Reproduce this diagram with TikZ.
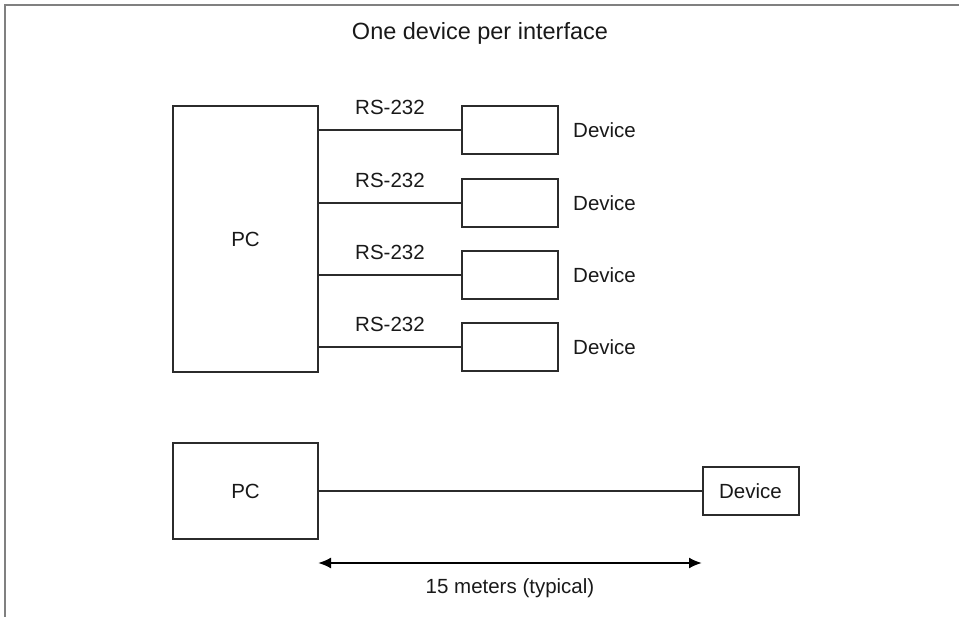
\documentclass[tikz,border=0pt]{standalone}
\usepackage{fontspec}
\setmainfont{Liberation Sans}
\usetikzlibrary{arrows.meta,positioning}
\definecolor{inkgray}{HTML}{2B2B2B}
\definecolor{framegray}{HTML}{808080}

\begin{document}
\begin{tikzpicture}[x=1pt,y=-1pt,
  every node/.style={font=\fontsize{20.5}{24}\selectfont,text=black!90,inner sep=0pt},
  pcbox/.style={draw=inkgray,line width=2pt,minimum width=145pt},
  devbox/.style={draw=inkgray,line width=2pt,minimum width=96pt,minimum height=48pt},
  wire/.style={draw=inkgray,line width=2pt},
  span/.style={{Latex[length=13pt,width=11pt]}-{Latex[length=13pt,width=11pt]},draw=black,line width=2pt}
]
  \useasboundingbox (0,0) rectangle (959,617);
  \draw[framegray,line width=2pt] (5,617) -- (5,5) -- (959,5);
  \node[font=\fontsize{23.5}{28}\selectfont] (title) at (480,33) {One device per interface};
  \node[pcbox,minimum height=266pt] (pc) at (245.5,239) {PC};
  \foreach \i/\y in {1/130,2/203,3/275,4/347} {
    \node[devbox] (dev\i) at (510,\y) {};
    \node[anchor=west] (devlbl\i) at (573,\y) {Device};
    \draw[wire] (pc.east |- dev\i.west) -- (dev\i.west)
      node[midway,above=14pt] (rs\i) {RS-232};
  }
  \node[pcbox,minimum height=96pt] (pcb) at (245.5,491) {PC};
  \node[devbox] (devb) at (750.5,491) {Device};
  \draw[wire] (pcb.east) -- (devb.west);
  \coordinate (spanl) at (318,563);
  \coordinate (spanr) at (702,563);
  \draw[span] (spanl) -- (spanr);
  \node (typ) at (510,588) {15 meters (typical)};
\end{tikzpicture}
\end{document}
